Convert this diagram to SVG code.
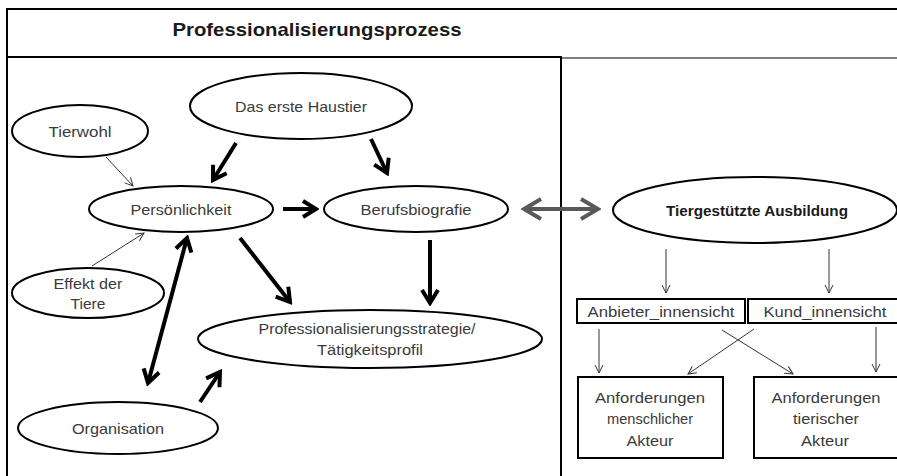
<svg xmlns="http://www.w3.org/2000/svg" width="897" height="476" viewBox="0 0 897 476">
<style>
text{font-family:"Liberation Sans",Arial,sans-serif;font-size:15px;fill:#3a3a3a;text-anchor:middle;dominant-baseline:central}
.b{font-weight:bold;fill:#1a1a1a}
.h{font-size:19px}
ellipse,rect{fill:#fff;stroke:#000;stroke-width:2}
.frame{stroke:#000;stroke-width:2;fill:none}
.thick{stroke:#000;stroke-width:4;fill:none}
.thin{stroke:#333;stroke-width:1;fill:none}
.gray{stroke:#595959;stroke-width:4;fill:none}
</style>
<defs>
<marker id="ah" markerUnits="userSpaceOnUse" viewBox="0 0 18 20" markerWidth="18" markerHeight="20" refX="15" refY="10" orient="auto-start-reverse">
<path d="M2,2 L15,10 L2,18" fill="none" stroke="#000" stroke-width="4"/>
</marker>
<marker id="ag" markerUnits="userSpaceOnUse" viewBox="0 0 22 24" markerWidth="22" markerHeight="24" refX="19" refY="12" orient="auto-start-reverse">
<path d="M2,2 L19,12 L2,22" fill="none" stroke="#595959" stroke-width="4"/>
</marker>
<marker id="at" markerUnits="userSpaceOnUse" viewBox="0 0 10 10" markerWidth="10" markerHeight="10" refX="9" refY="5" orient="auto">
<path d="M1,1 L9,5 L1,9" fill="none" stroke="#333" stroke-width="1"/>
</marker>
</defs>
<rect x="0" y="0" width="897" height="476" style="fill:#fff;stroke:none"/>
<g id="frame">
<line class="frame" x1="6" y1="9" x2="897" y2="9"/>
<line class="frame" x1="7" y1="8" x2="7" y2="476"/>
<line class="frame" x1="6" y1="57" x2="562" y2="57"/>
<line x1="562" y1="58" x2="897" y2="58" stroke="#808080" stroke-width="2"/>
<line class="frame" x1="561" y1="56" x2="561" y2="476"/>
<text class="b h" x="317" y="29" textLength="289" lengthAdjust="spacingAndGlyphs">Professionalisierungsprozess</text>
</g>
<g id="connectors">
<line class="thick" x1="236" y1="143" x2="213" y2="180" marker-end="url(#ah)"/>
<line class="thick" x1="371" y1="139" x2="387" y2="173" marker-end="url(#ah)"/>
<line class="thick" x1="283" y1="209" x2="316" y2="209" marker-end="url(#ah)"/>
<line class="thick" x1="240" y1="238" x2="290" y2="302" marker-end="url(#ah)"/>
<line class="thick" x1="430" y1="240" x2="430" y2="303" marker-end="url(#ah)"/>
<line class="thick" x1="187" y1="238" x2="148" y2="383" marker-start="url(#ah)" marker-end="url(#ah)"/>
<line class="thick" x1="200" y1="402" x2="220" y2="372" marker-end="url(#ah)"/>
<line class="gray" x1="524" y1="209" x2="598" y2="209" marker-start="url(#ag)" marker-end="url(#ag)"/>
<line class="thin" x1="106" y1="157" x2="133" y2="186" marker-end="url(#at)"/>
<line class="thin" x1="92" y1="266" x2="144" y2="233" marker-end="url(#at)"/>
<line class="thin" x1="666" y1="249" x2="666" y2="293" marker-end="url(#at)"/>
<line class="thin" x1="829" y1="249" x2="829" y2="293" marker-end="url(#at)"/>
<line class="thin" x1="599" y1="329" x2="599" y2="373" marker-end="url(#at)"/>
<line class="thin" x1="876" y1="327" x2="876" y2="372" marker-end="url(#at)"/>
<line class="thin" x1="722" y1="330" x2="793" y2="374" marker-end="url(#at)"/>
<line class="thin" x1="754" y1="329" x2="688" y2="374" marker-end="url(#at)"/>
</g>
<g id="haustier">
<ellipse cx="301" cy="106" rx="111" ry="33"/>
<text x="301" y="106" textLength="132" lengthAdjust="spacingAndGlyphs">Das erste Haustier</text>
</g>
<g id="tierwohl">
<ellipse cx="80" cy="131" rx="68" ry="26"/>
<text x="80" y="131" textLength="63" lengthAdjust="spacingAndGlyphs">Tierwohl</text>
</g>
<g id="persoenlichkeit">
<ellipse cx="181" cy="209" rx="92" ry="23"/>
<text x="181" y="209" textLength="101" lengthAdjust="spacingAndGlyphs">Persönlichkeit</text>
</g>
<g id="berufsbiografie">
<ellipse cx="416" cy="209" rx="92" ry="23"/>
<text x="416" y="209" textLength="111" lengthAdjust="spacingAndGlyphs">Berufsbiografie</text>
</g>
<g id="effekt">
<ellipse cx="88" cy="293" rx="76" ry="25"/>
<text x="88" y="283" textLength="69" lengthAdjust="spacingAndGlyphs">Effekt der</text>
<text x="88" y="303" textLength="35" lengthAdjust="spacingAndGlyphs">Tiere</text>
</g>
<g id="organisation">
<ellipse cx="118" cy="428" rx="100" ry="26"/>
<text x="118" y="428" textLength="92" lengthAdjust="spacingAndGlyphs">Organisation</text>
</g>
<g id="strategie">
<ellipse cx="370" cy="339" rx="172" ry="29"/>
<text x="367" y="328" textLength="217" lengthAdjust="spacingAndGlyphs">Professionalisierungsstrategie/</text>
<text x="370" y="349" textLength="106" lengthAdjust="spacingAndGlyphs">Tätigkeitsprofil</text>
</g>
<g id="ausbildung">
<ellipse cx="755" cy="210" rx="142" ry="33"/>
<text class="b" x="757" y="210" textLength="182" lengthAdjust="spacingAndGlyphs">Tiergestützte Ausbildung</text>
</g>
<g id="anbieter">
<rect x="577" y="299" width="168" height="24"/>
<text x="661" y="311" textLength="147" lengthAdjust="spacingAndGlyphs">Anbieter_innensicht</text>
</g>
<g id="kund">
<rect x="748" y="299" width="160" height="24"/>
<text x="825" y="311" textLength="123" lengthAdjust="spacingAndGlyphs">Kund_innensicht</text>
</g>
<g id="anf-mensch">
<rect x="578" y="377" width="145" height="81"/>
<text x="650" y="397" textLength="110" lengthAdjust="spacingAndGlyphs">Anforderungen</text>
<text x="650" y="418" textLength="86" lengthAdjust="spacingAndGlyphs">menschlicher</text>
<text x="650" y="440" textLength="47" lengthAdjust="spacingAndGlyphs">Akteur</text>
</g>
<g id="anf-tier">
<rect x="754" y="377" width="160" height="81"/>
<text x="826" y="397" textLength="109" lengthAdjust="spacingAndGlyphs">Anforderungen</text>
<text x="826" y="418" textLength="66" lengthAdjust="spacingAndGlyphs">tierischer</text>
<text x="825" y="440" textLength="48" lengthAdjust="spacingAndGlyphs">Akteur</text>
</g>
</svg>
